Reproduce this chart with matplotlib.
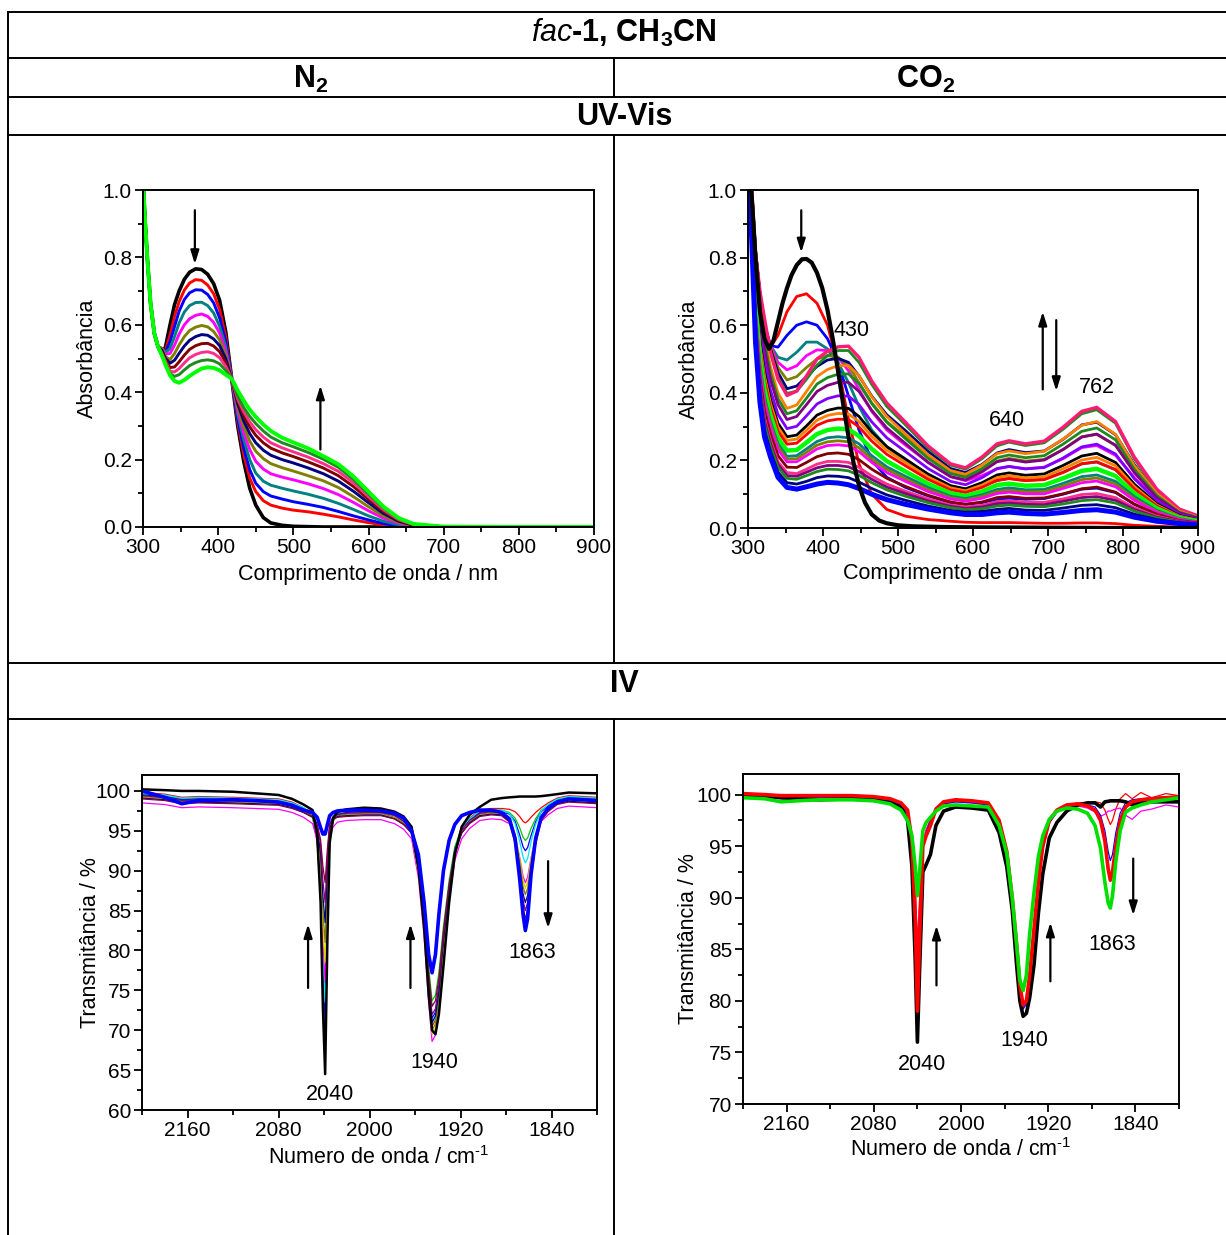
import matplotlib
matplotlib.use("Agg")
import matplotlib.pyplot as plt
from matplotlib.lines import Line2D
from matplotlib.ticker import MultipleLocator

plt.rcParams['font.family'] = ['Liberation Sans', 'DejaVu Sans']
plt.rcParams['mathtext.fontset'] = 'custom'
plt.rcParams['mathtext.rm'] = 'Liberation Sans'
plt.rcParams['mathtext.it'] = 'Liberation Sans:italic'
plt.rcParams['mathtext.bf'] = 'Liberation Sans:bold'
plt.rcParams['mathtext.default'] = 'regular'

# ---------------- UV-Vis, N2 (absorbance) ----------------
wl_n2 = [300, 303, 306, 310, 315, 320, 325, 330, 336, 342, 348, 355, 362, 370, 378,
         386, 394, 402, 410, 418, 426, 434, 442, 450, 460, 470, 485, 500, 520, 540,
         560, 580, 600, 620, 640, 660, 700, 800, 900]
n2_black = [1.03, 0.90, 0.79, 0.665, 0.575, 0.535, 0.512, 0.535, 0.60, 0.66, 0.70, 0.735, 0.756, 0.766, 0.764,
            0.750, 0.722, 0.672, 0.58, 0.44, 0.30, 0.195, 0.115, 0.065, 0.028, 0.012, 0.005, 0.002, 0.001, 0.0,
            0.0, 0.0, 0.0, 0.0, 0.0, 0.0, 0.0, 0.0, 0.0]
n2_red = [1.03, 0.90, 0.79, 0.665, 0.575, 0.535, 0.52, 0.525, 0.57, 0.625, 0.668, 0.703, 0.724, 0.734, 0.732,
          0.718, 0.692, 0.645, 0.565, 0.44, 0.31, 0.215, 0.145, 0.105, 0.078, 0.065, 0.056, 0.05, 0.045, 0.038,
          0.03, 0.021, 0.013, 0.006, 0.002, 0.0, 0.0, 0.0, 0.0]
n2_blue = [1.03, 0.90, 0.79, 0.665, 0.575, 0.535, 0.525, 0.52, 0.55, 0.595, 0.64, 0.675, 0.695, 0.704, 0.703,
           0.69, 0.665, 0.62, 0.55, 0.44, 0.32, 0.235, 0.17, 0.13, 0.105, 0.092, 0.083, 0.075, 0.067, 0.058,
           0.046, 0.033, 0.021, 0.01, 0.004, 0.001, 0.0, 0.0, 0.0]
n2_teal = [1.03, 0.90, 0.79, 0.665, 0.575, 0.535, 0.53, 0.517, 0.53, 0.565, 0.605, 0.638, 0.657, 0.666, 0.667,
           0.657, 0.635, 0.595, 0.535, 0.44, 0.335, 0.26, 0.2, 0.16, 0.136, 0.124, 0.115, 0.107, 0.097, 0.085,
           0.07, 0.052, 0.033, 0.017, 0.007, 0.002, 0.0, 0.0, 0.0]
n2_magenta = [1.03, 0.90, 0.79, 0.665, 0.575, 0.535, 0.53, 0.513, 0.515, 0.54, 0.572, 0.6, 0.618, 0.628, 0.632,
              0.625, 0.607, 0.575, 0.522, 0.44, 0.345, 0.28, 0.23, 0.195, 0.172, 0.158, 0.148, 0.14, 0.128, 0.114,
              0.096, 0.073, 0.048, 0.026, 0.011, 0.003, 0.0, 0.0, 0.0]
n2_olive = [1.03, 0.90, 0.79, 0.665, 0.575, 0.535, 0.53, 0.505, 0.497, 0.515, 0.54, 0.565, 0.583, 0.593, 0.598,
            0.594, 0.58, 0.555, 0.51, 0.44, 0.355, 0.298, 0.255, 0.225, 0.203, 0.188, 0.176, 0.166, 0.152, 0.137,
            0.117, 0.09, 0.06, 0.033, 0.014, 0.004, 0.001, 0.0, 0.0]
n2_navy = [1.03, 0.90, 0.79, 0.665, 0.575, 0.535, 0.525, 0.5, 0.486, 0.495, 0.515, 0.537, 0.554, 0.565, 0.571,
           0.569, 0.558, 0.538, 0.5, 0.44, 0.365, 0.315, 0.277, 0.25, 0.228, 0.213, 0.2, 0.19, 0.175, 0.158,
           0.136, 0.106, 0.072, 0.04, 0.017, 0.005, 0.001, 0.0, 0.0]
n2_maroon = [1.03, 0.90, 0.79, 0.665, 0.575, 0.535, 0.52, 0.495, 0.473, 0.475, 0.49, 0.51, 0.527, 0.538, 0.544,
             0.545, 0.537, 0.52, 0.488, 0.44, 0.373, 0.33, 0.297, 0.272, 0.25, 0.234, 0.22, 0.209, 0.193, 0.175,
             0.152, 0.12, 0.082, 0.046, 0.02, 0.006, 0.001, 0.0, 0.0]
n2_pink = [1.03, 0.90, 0.79, 0.665, 0.575, 0.535, 0.515, 0.49, 0.462, 0.46, 0.47, 0.487, 0.502, 0.512, 0.518,
           0.52, 0.515, 0.502, 0.477, 0.44, 0.38, 0.342, 0.312, 0.289, 0.267, 0.25, 0.235, 0.223, 0.207, 0.188,
           0.165, 0.131, 0.09, 0.051, 0.022, 0.007, 0.001, 0.0, 0.0]
n2_dkgreen = [1.03, 0.90, 0.79, 0.665, 0.575, 0.535, 0.51, 0.485, 0.455, 0.447, 0.452, 0.466, 0.479, 0.488, 0.494,
              0.496, 0.493, 0.484, 0.465, 0.44, 0.388, 0.355, 0.328, 0.307, 0.285, 0.267, 0.25, 0.238, 0.221, 0.201,
              0.177, 0.141, 0.098, 0.056, 0.025, 0.008, 0.001, 0.0, 0.0]
n2_lime = [1.03, 0.90, 0.79, 0.665, 0.575, 0.535, 0.51, 0.48, 0.45, 0.433, 0.428, 0.436, 0.448, 0.46, 0.47,
           0.474, 0.472, 0.465, 0.452, 0.44, 0.405, 0.375, 0.348, 0.327, 0.304, 0.285, 0.265, 0.251, 0.233, 0.21,
           0.186, 0.15, 0.105, 0.06, 0.027, 0.009, 0.001, 0.0, 0.0]

# ---------------- UV-Vis, CO2 ----------------
wl_co2_first = [300, 305, 310, 316, 322, 328, 334, 340, 346, 352, 358, 365, 372, 378, 385, 392, 399, 406,
                413, 420, 427, 434, 441, 448, 456, 465, 475, 485, 500, 520, 560, 600, 700, 800, 900]
co2_black0 = [1.1, 0.98, 0.80, 0.64, 0.56, 0.53, 0.555, 0.61, 0.665, 0.71, 0.748, 0.778, 0.795, 0.796, 0.785, 0.755, 0.71, 0.645,
              0.56, 0.465, 0.365, 0.27, 0.19, 0.125, 0.075, 0.04, 0.022, 0.014, 0.008, 0.005, 0.003, 0.002, 0.001, 0.0, 0.0]

wl_co2 = [300, 305, 310, 316, 322, 330, 340, 352, 365, 378, 392, 406, 420, 434, 448, 465, 485,
          510, 540, 570, 590, 612, 632, 648, 670, 695, 720, 745, 765, 790, 815, 845, 875, 900]
# growth of the 430 / 640 / 762 nm bands
co2_red1 = [1.1, 1.0, 0.82, 0.69, 0.60, 0.535, 0.57, 0.64, 0.685, 0.693, 0.665, 0.60, 0.48, 0.32, 0.19, 0.10, 0.055,
            0.035, 0.025, 0.02, 0.017, 0.016, 0.016, 0.016, 0.015, 0.014, 0.014, 0.015, 0.015, 0.013, 0.008, 0.005, 0.003, 0.002]
co2_blue2 = [1.1, 1.0, 0.82, 0.69, 0.60, 0.54, 0.535, 0.57, 0.60, 0.61, 0.60, 0.56, 0.49, 0.39, 0.29, 0.20, 0.15,
             0.12, 0.095, 0.075, 0.07, 0.075, 0.085, 0.088, 0.085, 0.087, 0.10, 0.115, 0.118, 0.105, 0.07, 0.04, 0.022, 0.015]
co2_teal3 = [1.1, 1.0, 0.82, 0.69, 0.60, 0.54, 0.505, 0.497, 0.52, 0.55, 0.55, 0.53, 0.49, 0.43, 0.36, 0.29, 0.24,
             0.20, 0.16, 0.125, 0.115, 0.125, 0.14, 0.147, 0.14, 0.145, 0.165, 0.19, 0.195, 0.172, 0.12, 0.066, 0.036, 0.024]
co2_magenta4 = [1.1, 1.0, 0.82, 0.69, 0.60, 0.54, 0.49, 0.468, 0.48, 0.51, 0.527, 0.525, 0.505, 0.465, 0.41, 0.345, 0.29,
                0.245, 0.195, 0.152, 0.14, 0.155, 0.175, 0.182, 0.175, 0.18, 0.205, 0.238, 0.244, 0.215, 0.15, 0.082, 0.044, 0.028]
co2_olive5 = [1.1, 1.0, 0.82, 0.69, 0.60, 0.535, 0.475, 0.438, 0.448, 0.475, 0.50, 0.51, 0.505, 0.48, 0.43, 0.37, 0.315,
              0.27, 0.213, 0.165, 0.153, 0.172, 0.198, 0.206, 0.198, 0.203, 0.232, 0.27, 0.277, 0.244, 0.17, 0.093, 0.05, 0.031]
co2_navy6 = [1.1, 1.0, 0.82, 0.69, 0.60, 0.53, 0.46, 0.412, 0.42, 0.448, 0.478, 0.497, 0.502, 0.49, 0.45, 0.39, 0.335,
             0.288, 0.227, 0.176, 0.164, 0.188, 0.222, 0.232, 0.223, 0.228, 0.262, 0.305, 0.313, 0.276, 0.188, 0.102, 0.052, 0.033]
co2_green7 = [1.1, 1.0, 0.82, 0.69, 0.60, 0.52, 0.445, 0.398, 0.405, 0.44, 0.482, 0.51, 0.525, 0.525, 0.49, 0.425, 0.36,
              0.305, 0.237, 0.186, 0.174, 0.205, 0.243, 0.254, 0.244, 0.252, 0.292, 0.338, 0.35, 0.31, 0.205, 0.11, 0.055, 0.035]
co2_pink8 = [1.1, 1.0, 0.815, 0.70, 0.62, 0.52, 0.44, 0.392, 0.405, 0.45, 0.50, 0.523, 0.536, 0.538, 0.505, 0.435, 0.37,
             0.313, 0.243, 0.19, 0.178, 0.21, 0.249, 0.258, 0.249, 0.257, 0.298, 0.345, 0.357, 0.315, 0.21, 0.115, 0.056, 0.036]
# decay of the bands
co2_orange9 = [1.1, 0.979, 0.778, 0.654, 0.571, 0.477, 0.399, 0.354, 0.364, 0.404, 0.448, 0.469, 0.480, 0.481, 0.451, 0.388, 0.330,
               0.279, 0.217, 0.170, 0.159, 0.186, 0.220, 0.228, 0.220, 0.227, 0.263, 0.304, 0.315, 0.277, 0.185, 0.102, 0.050, 0.032]
co2_green10 = [1.1, 0.970, 0.762, 0.634, 0.550, 0.458, 0.382, 0.338, 0.347, 0.384, 0.426, 0.445, 0.455, 0.456, 0.427, 0.368, 0.313,
               0.264, 0.206, 0.161, 0.150, 0.176, 0.208, 0.216, 0.208, 0.214, 0.248, 0.286, 0.296, 0.261, 0.174, 0.096, 0.047, 0.031]
co2_purple11 = [1.1, 0.961, 0.746, 0.614, 0.529, 0.439, 0.365, 0.321, 0.330, 0.365, 0.404, 0.422, 0.431, 0.431, 0.404, 0.348, 0.296,
                0.250, 0.194, 0.152, 0.142, 0.166, 0.196, 0.203, 0.195, 0.201, 0.232, 0.269, 0.278, 0.245, 0.164, 0.090, 0.045, 0.029]
co2_violet12 = [1.1, 0.946, 0.720, 0.581, 0.494, 0.408, 0.336, 0.294, 0.301, 0.332, 0.367, 0.383, 0.391, 0.390, 0.365, 0.314, 0.267,
                0.226, 0.176, 0.138, 0.128, 0.149, 0.176, 0.182, 0.175, 0.179, 0.207, 0.240, 0.248, 0.219, 0.146, 0.081, 0.041, 0.026]
co2_black13 = [1.1, 0.933, 0.696, 0.552, 0.463, 0.381, 0.310, 0.270, 0.275, 0.302, 0.334, 0.348, 0.355, 0.354, 0.330, 0.284, 0.241,
               0.204, 0.159, 0.125, 0.116, 0.134, 0.157, 0.163, 0.156, 0.160, 0.185, 0.213, 0.221, 0.194, 0.130, 0.072, 0.037, 0.024]
co2_orange14 = [1.1, 0.927, 0.685, 0.538, 0.449, 0.368, 0.298, 0.259, 0.263, 0.289, 0.319, 0.333, 0.339, 0.337, 0.315, 0.271, 0.230,
                0.194, 0.151, 0.119, 0.110, 0.127, 0.149, 0.155, 0.148, 0.151, 0.175, 0.201, 0.209, 0.184, 0.123, 0.068, 0.035, 0.023]
co2_red15 = [1.1, 0.921, 0.675, 0.525, 0.435, 0.356, 0.286, 0.248, 0.251, 0.276, 0.304, 0.317, 0.322, 0.321, 0.299, 0.257, 0.218,
             0.184, 0.144, 0.113, 0.105, 0.120, 0.141, 0.146, 0.140, 0.143, 0.164, 0.190, 0.196, 0.173, 0.116, 0.065, 0.033, 0.022]
co2_lime16 = [1.1, 0.910, 0.656, 0.502, 0.410, 0.334, 0.266, 0.229, 0.231, 0.253, 0.278, 0.290, 0.294, 0.292, 0.272, 0.234, 0.198,
              0.167, 0.131, 0.103, 0.095, 0.108, 0.127, 0.131, 0.125, 0.127, 0.147, 0.169, 0.175, 0.154, 0.103, 0.058, 0.030, 0.020]
co2_teal17 = [1.1, 0.901, 0.640, 0.482, 0.389, 0.315, 0.249, 0.212, 0.214, 0.234, 0.256, 0.267, 0.270, 0.267, 0.249, 0.214, 0.181,
              0.153, 0.120, 0.094, 0.087, 0.098, 0.114, 0.119, 0.113, 0.114, 0.132, 0.152, 0.157, 0.138, 0.093, 0.052, 0.028, 0.018]
co2_olive18 = [1.1, 0.897, 0.632, 0.472, 0.379, 0.306, 0.240, 0.204, 0.205, 0.224, 0.245, 0.255, 0.258, 0.255, 0.237, 0.204, 0.173,
               0.145, 0.114, 0.090, 0.083, 0.093, 0.108, 0.112, 0.107, 0.108, 0.124, 0.143, 0.148, 0.130, 0.087, 0.049, 0.026, 0.017]
co2_magenta19 = [1.1, 0.892, 0.624, 0.462, 0.368, 0.297, 0.231, 0.196, 0.196, 0.214, 0.234, 0.244, 0.246, 0.243, 0.226, 0.194, 0.164,
                 0.138, 0.108, 0.086, 0.079, 0.088, 0.102, 0.106, 0.101, 0.101, 0.117, 0.134, 0.139, 0.122, 0.082, 0.047, 0.025, 0.017]
co2_maroon20 = [1.1, 0.883, 0.608, 0.443, 0.347, 0.278, 0.214, 0.180, 0.179, 0.194, 0.211, 0.220, 0.222, 0.218, 0.202, 0.174, 0.147,
                0.123, 0.097, 0.077, 0.070, 0.077, 0.090, 0.093, 0.088, 0.089, 0.101, 0.116, 0.121, 0.106, 0.071, 0.041, 0.022, 0.015]
co2_pink21 = [1.1, 0.874, 0.592, 0.423, 0.326, 0.260, 0.196, 0.164, 0.161, 0.174, 0.189, 0.197, 0.197, 0.194, 0.179, 0.154, 0.130,
              0.109, 0.086, 0.068, 0.062, 0.067, 0.078, 0.081, 0.076, 0.076, 0.086, 0.099, 0.102, 0.090, 0.060, 0.035, 0.020, 0.013]
co2_purple22 = [1.1, 0.870, 0.584, 0.413, 0.316, 0.250, 0.188, 0.155, 0.153, 0.165, 0.178, 0.185, 0.185, 0.181, 0.167, 0.144, 0.121,
                0.102, 0.080, 0.064, 0.058, 0.062, 0.072, 0.074, 0.070, 0.069, 0.079, 0.090, 0.093, 0.082, 0.055, 0.032, 0.019, 0.013]
co2_green23 = [1.1, 0.865, 0.577, 0.403, 0.305, 0.241, 0.179, 0.147, 0.144, 0.155, 0.167, 0.174, 0.173, 0.169, 0.156, 0.134, 0.113,
               0.094, 0.075, 0.060, 0.054, 0.057, 0.065, 0.068, 0.064, 0.063, 0.071, 0.081, 0.084, 0.074, 0.050, 0.030, 0.017, 0.012]
co2_navy24 = [1.1, 0.858, 0.563, 0.387, 0.288, 0.226, 0.165, 0.134, 0.130, 0.138, 0.149, 0.154, 0.153, 0.149, 0.136, 0.117, 0.098,
              0.082, 0.065, 0.052, 0.047, 0.049, 0.055, 0.058, 0.053, 0.052, 0.059, 0.067, 0.069, 0.060, 0.041, 0.025, 0.015, 0.010]
co2_blue_last = [1.1, 0.85, 0.55, 0.37, 0.27, 0.21, 0.15, 0.12, 0.115, 0.122, 0.13, 0.135, 0.133, 0.128, 0.117, 0.10, 0.084,
                 0.07, 0.056, 0.045, 0.04, 0.04, 0.045, 0.047, 0.043, 0.041, 0.046, 0.052, 0.054, 0.047, 0.032, 0.02, 0.013, 0.009]

# ---------------- IR, N2 (transmittance %) ----------------
wn_n2 = [2200, 2180, 2165, 2150, 2120, 2100, 2080, 2068, 2058, 2050, 2046, 2043, 2041, 2039, 2037, 2035, 2032, 2028,
         2020, 2005, 1990, 1978, 1970, 1963, 1957, 1952, 1948, 1945, 1942, 1939, 1935, 1930, 1925, 1919, 1912,
         1903, 1893, 1884, 1877, 1872, 1868, 1865, 1863, 1861, 1858, 1854, 1849, 1843, 1835, 1825, 1812, 1800]
ir_n2_black = [100.2, 100.1, 100.0, 100.0, 99.9, 99.7, 99.5, 99.0, 98.3, 97.6, 94.5, 86.0, 73.0, 64.5, 81.5, 93.5, 96.6, 97.4,
               97.7, 97.9, 97.8, 97.4, 96.8, 95.5, 90.5, 83.0, 74.5, 70.0, 69.5, 72.0, 78.0, 86.0, 92.0, 95.5, 97.0,
               98.0, 98.9, 99.1, 99.2, 99.25, 99.3, 99.3, 99.3, 99.3, 99.3, 99.3, 99.35, 99.45, 99.6, 99.8, 99.75, 99.7]
ir_n2_red = [99.8, 99.6, 99.2, 99.3, 99.2, 99.1, 99.0, 98.6, 97.9, 96.9, 93.6, 86.5, 73.9, 66.0, 82.4, 93.8, 96.3, 97.3,
             97.6, 97.7, 97.7, 97.2, 96.5, 95.3, 90.5, 83.3, 75.3, 70.5, 71.3, 74.5, 81.2, 87.9, 92.7, 95.3, 96.6,
             97.6, 97.8, 97.8, 97.7, 97.4, 96.8, 96.2, 96.0, 96.2, 96.7, 97.3, 97.9, 98.5, 99.1, 99.4, 99.3, 99.2]
ir_n2_green = [99.6, 99.4, 99.0, 99.1, 99.0, 98.9, 98.8, 98.4, 97.8, 96.7, 93.7, 87.3, 75.7, 68.5, 83.5, 93.9, 96.2, 97.1,
               97.4, 97.5, 97.5, 97.1, 96.4, 95.4, 91.2, 84.9, 77.9, 73.7, 74.4, 77.2, 83.0, 88.8, 93.0, 95.4, 96.5,
               97.4, 97.6, 97.6, 97.3, 96.6, 95.4, 94.2, 93.8, 94.1, 95.3, 96.5, 97.6, 98.2, 98.9, 99.2, 99.1, 99.0]
ir_n2_blue = [99.5, 99.3, 98.9, 99.0, 98.9, 98.8, 98.7, 98.3, 97.7, 96.7, 94.0, 88.1, 77.6, 71.0, 84.7, 94.1, 96.3, 97.0,
              97.3, 97.4, 97.4, 97.0, 96.2, 95.1, 90.6, 83.7, 76.1, 71.5, 72.3, 75.3, 81.7, 88.0, 92.6, 95.1, 96.4,
              97.3, 97.5, 97.4, 97.1, 96.2, 94.5, 93.0, 92.5, 92.9, 94.4, 96.1, 97.4, 98.1, 98.8, 99.1, 99.0, 98.9]
ir_n2_cyan = [99.7, 99.5, 99.1, 99.2, 99.1, 99.0, 98.9, 98.5, 97.9, 97.0, 94.5, 89.1, 79.5, 73.5, 86.0, 94.6, 96.5, 97.3,
              97.5, 97.6, 97.6, 97.1, 96.4, 95.3, 90.5, 83.4, 75.5, 70.8, 71.6, 74.7, 81.3, 87.9, 92.6, 95.3, 96.5,
              97.5, 97.7, 97.6, 97.2, 95.9, 93.7, 91.7, 91.0, 91.5, 93.6, 95.8, 97.5, 98.3, 99.0, 99.3, 99.2, 99.1]
ir_n2_magenta = [98.5, 98.3, 97.9, 98.0, 97.9, 97.8, 97.7, 97.3, 96.7, 95.9, 93.8, 89.2, 81.1, 76.0, 86.6, 93.9, 95.5, 96.1,
                 96.3, 96.4, 96.4, 95.9, 95.2, 94.0, 89.1, 81.7, 73.5, 68.6, 69.4, 72.7, 79.5, 86.3, 91.3, 94.0, 95.3,
                 96.3, 96.5, 96.4, 95.9, 94.3, 91.7, 89.3, 88.5, 89.2, 91.6, 94.2, 96.2, 97.0, 97.8, 98.1, 98.0, 97.9]
ir_n2_yellow = [99.2, 99.0, 98.6, 98.7, 98.6, 98.5, 98.4, 98.0, 97.4, 96.6, 94.7, 90.5, 83.1, 78.5, 88.1, 94.8, 96.3, 96.8,
                97.0, 97.1, 97.1, 96.6, 95.9, 94.7, 89.8, 82.5, 74.4, 69.5, 70.3, 73.6, 80.3, 87.1, 92.0, 94.7, 96.0,
                97.0, 97.2, 97.1, 96.5, 94.6, 91.6, 88.8, 87.8, 88.6, 91.4, 94.5, 96.7, 97.7, 98.5, 98.8, 98.7, 98.6]
ir_n2_olive = [99.3, 99.1, 98.7, 98.8, 98.7, 98.6, 98.5, 98.1, 97.5, 96.8, 95.1, 91.5, 85.0, 81.0, 89.4, 95.2, 96.5, 96.9,
               97.1, 97.2, 97.2, 96.7, 96.0, 94.8, 90.0, 82.8, 74.8, 70.0, 70.8, 74.0, 80.7, 87.4, 92.2, 94.8, 96.1,
               97.1, 97.3, 97.2, 96.6, 94.5, 91.2, 88.0, 87.0, 87.8, 91.0, 94.3, 96.8, 97.8, 98.6, 98.9, 98.8, 98.7]
ir_n2_navy = [99.1, 98.9, 98.5, 98.6, 98.5, 98.4, 98.3, 97.9, 97.3, 96.7, 95.3, 92.2, 86.9, 83.5, 90.5, 95.3, 96.4, 96.8,
              96.9, 97.0, 97.0, 96.5, 95.8, 94.7, 90.1, 83.2, 75.6, 71.0, 71.8, 74.8, 81.2, 87.6, 92.2, 94.7, 96.0,
              96.9, 97.1, 97.0, 96.3, 94.1, 90.5, 87.1, 86.0, 86.9, 90.3, 93.8, 96.5, 97.6, 98.4, 98.7, 98.6, 98.5]
ir_n2_purple = [99.4, 99.2, 98.8, 98.9, 98.8, 98.7, 98.6, 98.2, 97.6, 97.1, 95.8, 93.3, 88.8, 86.0, 91.8, 95.9, 96.8, 97.1,
                97.2, 97.3, 97.3, 96.9, 96.2, 95.1, 90.6, 83.9, 76.5, 72.0, 72.7, 75.7, 81.9, 88.1, 92.6, 95.1, 96.3,
                97.2, 97.4, 97.3, 96.5, 94.0, 90.0, 86.3, 85.0, 86.0, 89.8, 93.8, 96.7, 97.9, 98.7, 99.0, 98.9, 98.8]
ir_n2_wine = [99.0, 98.8, 98.4, 98.5, 98.4, 98.3, 98.2, 97.8, 97.3, 96.8, 95.8, 93.9, 90.6, 88.5, 92.8, 95.8, 96.5, 96.7,
              96.8, 96.9, 96.9, 96.5, 95.8, 94.8, 90.6, 84.2, 77.2, 73.0, 73.7, 76.5, 82.4, 88.2, 92.4, 94.8, 95.9,
              96.8, 97.0, 96.9, 96.1, 93.4, 89.2, 85.3, 84.0, 85.1, 89.0, 93.2, 96.3, 97.4, 98.3, 98.6, 98.5, 98.4]
ir_n2_blue_last = [100.0, 99.2, 98.4, 98.8, 98.9, 98.8, 98.6, 98.2, 97.6, 97.3, 96.7, 95.4, 94.6, 94.6, 95.8, 96.9, 97.3, 97.5,
                   97.6, 97.6, 97.5, 97.2, 96.6, 95.0, 92.0, 86.0, 79.5, 77.2, 79.5, 84.5, 90.0, 93.8, 95.8, 96.9, 97.3,
                   97.6, 97.6, 97.3, 96.5, 94.0, 89.0, 84.5, 82.5, 84.0, 89.5, 94.0, 96.7, 97.8, 98.6, 99.0, 98.9, 98.8]

# ---------------- IR, CO2 ----------------
wn_co2 = [2200, 2180, 2165, 2150, 2130, 2100, 2080, 2065, 2055, 2049, 2045, 2042, 2040, 2038, 2035, 2032, 2028, 2023,
          2016, 2005, 1990, 1975, 1965, 1958, 1953, 1949, 1946, 1943, 1940, 1937, 1933, 1929, 1925, 1919, 1912,
          1903, 1893, 1884, 1877, 1872, 1868, 1865, 1863, 1861, 1858, 1854, 1849, 1843, 1835, 1825, 1812, 1800]
ir_co2_black = [99.9, 99.85, 99.7, 99.6, 99.5, 99.6, 99.5, 99.2, 98.8, 97.5, 93.0, 84.0, 76.0, 83.0, 92.5, 93.2, 94.2, 97.0,
                98.4, 98.8, 98.7, 98.5, 96.3, 93.0, 88.8, 83.5, 80.0, 78.5, 78.8, 80.3, 83.5, 88.5, 92.3, 95.8, 97.3,
                98.4, 99.0, 99.2, 99.2, 98.8, 99.3, 99.35, 99.4, 99.4, 99.4, 99.4, 99.3, 99.0, 99.2, 99.3, 99.3, 99.3]
ir_co2_thin_red = [100.0, 99.9, 99.8, 99.8, 99.8, 99.8, 99.7, 99.5, 99.1, 98.4, 96.0, 91.5, 85.5, 90.0, 95.5, 96.6, 97.6, 98.7,
                   99.2, 99.4, 99.3, 99.1, 97.4, 94.4, 90.0, 85.3, 81.2, 79.4, 80.0, 82.5, 87.0, 91.5, 95.0, 97.5, 98.5,
                   99.0, 99.2, 99.2, 99.3, 99.2, 98.5, 97.6, 97.1, 97.5, 98.6, 99.6, 100.1, 99.6, 100.2, 99.7, 100.1, 99.9]
ir_co2_thin_magenta = [99.8, 99.7, 99.6, 99.6, 99.6, 99.6, 99.5, 99.3, 98.9, 98.1, 95.5, 90.5, 84.0, 89.0, 95.3, 96.5, 97.5, 98.6,
                       99.1, 99.3, 99.2, 99.0, 97.4, 94.4, 90.0, 85.4, 81.4, 79.6, 80.2, 82.6, 87.0, 91.3, 94.6, 97.2, 98.3,
                       98.8, 98.9, 98.7, 98.3, 97.9, 98.1, 98.4, 98.4, 98.5, 98.6, 98.7, 98.0, 97.6, 98.4, 98.6, 99.0, 98.8]
ir_co2_thin_blue = [99.9, 99.8, 99.7, 99.7, 99.7, 99.7, 99.6, 99.4, 99.0, 98.2, 95.0, 89.0, 82.5, 88.0, 95.0, 96.3, 97.5, 98.6,
                    99.1, 99.3, 99.2, 99.0, 97.3, 94.3, 89.8, 85.0, 81.0, 79.2, 79.7, 82.0, 86.5, 91.0, 94.8, 97.3, 98.3,
                    98.9, 99.1, 99.0, 98.8, 98.0, 96.5, 94.5, 93.6, 94.2, 96.3, 98.2, 99.2, 99.5, 99.6, 99.7, 99.8, 99.8]
ir_co2_red = [100.1, 100.0, 99.9, 99.9, 99.9, 99.9, 99.8, 99.6, 99.2, 98.5, 95.5, 88.0, 79.0, 86.0, 95.0, 96.0, 97.0, 98.6,
              99.3, 99.5, 99.4, 99.2, 97.5, 94.5, 90.0, 85.5, 81.5, 79.6, 80.0, 82.5, 87.0, 91.5, 95.0, 97.5, 98.5,
              99.0, 99.1, 98.9, 98.5, 97.5, 95.5, 92.8, 91.7, 92.5, 95.0, 97.5, 98.8, 99.3, 99.5, 99.6, 99.7, 99.8]
ir_co2_green = [99.7, 99.6, 99.3, 99.4, 99.5, 99.5, 99.4, 99.1, 98.5, 97.5, 96.0, 93.0, 90.2, 92.5, 96.5, 97.3, 97.8, 98.4,
                98.9, 99.0, 98.9, 98.8, 97.0, 94.3, 90.0, 85.5, 82.0, 81.0, 82.5, 86.5, 90.5, 94.0, 96.0, 97.6, 98.4,
                98.7, 98.6, 98.2, 97.0, 94.8, 91.5, 89.5, 89.0, 90.2, 93.5, 96.5, 98.3, 98.7, 99.0, 99.3, 99.5, 99.7]

# ---------------- layout ----------------
W, H = 1226, 1235
fig = plt.figure(figsize=(W / 100, H / 100), dpi=100)


def fx(x):
    return x / W


def fy(y):
    return 1 - y / H


def line(x0, y0, x1, y1):
    fig.add_artist(Line2D([fx(x0), fx(x1)], [fy(y0), fy(y1)], transform=fig.transFigure,
                          color='black', lw=1.4, solid_capstyle='projecting'))


# table grid
for y in [12, 58, 97, 135, 663, 719]:
    line(8, y, 1226, y)
line(8, 12, 8, 1235)
line(614, 58, 614, 97)
line(614, 135, 614, 663)
line(614, 719, 614, 1235)

hdr = dict(ha='center', va='center', fontsize=22, fontweight='bold')
fig.text(fx(624), fy(33), r'$\mathit{fac}$-1, CH$_3$CN', **hdr)
fig.text(fx(311), fy(79), r'N$_2$', **hdr)
fig.text(fx(926), fy(79), r'CO$_2$', **hdr)
fig.text(fx(624), fy(117), 'UV-Vis', **hdr)
fig.text(fx(624), fy(684), 'IV', **hdr)

LAB = 15.5
IR_XLABEL = r'Numero de onda / cm$^{\text{-}1}$'


def add_axes(left, right, top, bottom):
    ax = fig.add_axes([fx(left), fy(bottom), (right - left) / W, (bottom - top) / H])
    for sp in ax.spines.values():
        sp.set_linewidth(1.4)
    ax.tick_params(which='both', direction='out', width=1.3, top=False, right=False,
                   labelsize=15, pad=2)
    ax.tick_params(which='major', length=6)
    ax.tick_params(which='minor', length=3.5)
    return ax


def arrow(ax, x, y0, y1):
    ax.annotate('', xy=(x, y1), xytext=(x, y0),
                arrowprops=dict(arrowstyle='-|>,head_length=0.8,head_width=0.25', color='black',
                                lw=1.6, mutation_scale=10, shrinkA=0, shrinkB=0))


def set_labels(ax, xlabel, ylabel, xl_y, yl_x, xl_x=0.5):
    ax.set_xlabel(xlabel, fontsize=LAB, va='center')
    ax.set_ylabel(ylabel, fontsize=LAB, va='center')
    ax.xaxis.set_label_coords(xl_x, xl_y)
    ax.yaxis.set_label_coords(yl_x, 0.5)


def uv_axes(ax):
    ax.set_xlim(300, 900)
    ax.set_ylim(0, 1)
    ax.xaxis.set_major_locator(MultipleLocator(100))
    ax.xaxis.set_minor_locator(MultipleLocator(50))
    ax.yaxis.set_major_locator(MultipleLocator(0.2))
    ax.yaxis.set_minor_locator(MultipleLocator(0.1))


# ---- panel 1: UV-Vis N2
ax1 = add_axes(143, 594, 190, 527)
n2_curves = [(n2_black, 'black', 2.6), (n2_red, 'red', 2.1), (n2_blue, 'blue', 2.1),
             (n2_teal, '#008080', 2.1), (n2_magenta, '#ff00ff', 2.1), (n2_olive, '#808000', 2.1),
             (n2_navy, '#000080', 2.1), (n2_maroon, '#800000', 2.1), (n2_pink, '#ff2e8c', 2.1),
             (n2_dkgreen, '#1e8a1e', 2.1), (n2_lime, '#00ff00', 2.8)]
for vals, col, lw in n2_curves:
    ax1.plot(wl_n2, vals, color=col, lw=lw)
uv_axes(ax1)
set_labels(ax1, 'Comprimento de onda / nm', 'Absorbância', -0.142, -0.124)
arrow(ax1, 369, 0.94, 0.78)
arrow(ax1, 536, 0.23, 0.42)

# ---- panel 2: UV-Vis CO2
ax2 = add_axes(748, 1198, 190, 528)
co2_curves = [(co2_red1, 'red', 2.0), (co2_blue2, 'blue', 2.0), (co2_teal3, '#008080', 2.0),
              (co2_magenta4, '#ff00ff', 2.0), (co2_olive5, '#808000', 2.0), (co2_navy6, '#000080', 2.0),
              (co2_green7, '#1e8a1e', 2.0), (co2_pink8, '#ff1a75', 2.4),
              (co2_orange9, '#ff8000', 2.0), (co2_green10, '#1e8a1e', 2.0), (co2_purple11, '#800080', 2.0),
              (co2_violet12, '#8000ff', 2.0), (co2_black13, 'black', 2.0), (co2_orange14, '#ff8000', 2.0),
              (co2_red15, 'red', 2.0), (co2_lime16, '#00ff00', 3.2), (co2_teal17, '#008080', 2.0),
              (co2_olive18, '#808000', 2.0), (co2_magenta19, '#ff00ff', 2.0), (co2_maroon20, '#800000', 2.0),
              (co2_pink21, '#ff2e8c', 2.0), (co2_purple22, '#800080', 2.0), (co2_green23, '#1e8a1e', 2.0),
              (co2_navy24, '#000080', 2.0), (co2_blue_last, 'blue', 3.6)]
for vals, col, lw in co2_curves:
    ax2.plot(wl_co2, vals, color=col, lw=lw)
ax2.plot(wl_co2_first, co2_black0, color='black', lw=3.0, zorder=3)
uv_axes(ax2)
set_labels(ax2, 'Comprimento de onda / nm', 'Absorbância', -0.136, -0.129)
arrow(ax2, 371, 0.94, 0.815)
arrow(ax2, 693, 0.41, 0.64)
arrow(ax2, 711, 0.615, 0.405)
ax2.text(438, 0.585, '430', fontsize=LAB, ha='center', va='center')
ax2.text(645, 0.317, '640', fontsize=LAB, ha='center', va='center')
ax2.text(765, 0.417, '762', fontsize=LAB, ha='center', va='center')


def ir_axes(ax, ymin):
    ax.set_xlim(2200, 1800)
    ax.set_ylim(ymin, 102)
    ax.xaxis.set_major_locator(MultipleLocator(80))
    ax.xaxis.set_minor_locator(MultipleLocator(40))
    ax.yaxis.set_major_locator(MultipleLocator(5))
    ax.yaxis.set_minor_locator(MultipleLocator(2.5))


# ---- panel 3: IR N2
ax3 = add_axes(142, 597, 775, 1110)
ir_n2_curves = [(ir_n2_red, 'red'), (ir_n2_green, '#00c800'), (ir_n2_blue, 'blue'), (ir_n2_cyan, '#00e5ff'),
                (ir_n2_magenta, '#ff00ff'), (ir_n2_yellow, '#d8d800'), (ir_n2_olive, '#808000'),
                (ir_n2_navy, '#000080'), (ir_n2_purple, '#800080'), (ir_n2_wine, '#800040')]
for vals, col in ir_n2_curves:
    ax3.plot(wn_n2, vals, color=col, lw=0.9)
ax3.plot(wn_n2, ir_n2_black, color='black', lw=1.8)
ax3.plot(wn_n2, ir_n2_blue_last, color='blue', lw=2.6)
ir_axes(ax3, 60)
set_labels(ax3, IR_XLABEL, 'Transmitância / %', -0.143, -0.114, 0.52)
arrow(ax3, 2054, 75.3, 83.3)
arrow(ax3, 1964, 75.3, 83.3)
arrow(ax3, 1843, 91.2, 82.8)
ax3.text(2035, 61.9, '2040', fontsize=LAB, ha='center', va='center')
ax3.text(1943, 66.0, '1940', fontsize=LAB, ha='center', va='center')
ax3.text(1857, 79.7, '1863', fontsize=LAB, ha='center', va='center')

# ---- panel 4: IR CO2
ax4 = add_axes(743, 1179, 774, 1104)
for vals, col in [(ir_co2_thin_red, 'red'), (ir_co2_thin_magenta, '#ff00ff'), (ir_co2_thin_blue, 'blue')]:
    ax4.plot(wn_co2, vals, color=col, lw=0.9)
ax4.plot(wn_co2, ir_co2_black, color='black', lw=2.6)
ax4.plot(wn_co2, ir_co2_red, color='red', lw=2.6)
ax4.plot(wn_co2, ir_co2_green, color='#00e000', lw=2.6)
ir_axes(ax4, 70)
set_labels(ax4, IR_XLABEL, 'Transmitância / %', -0.139, -0.126)
arrow(ax4, 2022.5, 81.5, 87.3)
arrow(ax4, 1918, 81.9, 87.6)
arrow(ax4, 1842, 93.8, 88.3)
ax4.text(2036, 73.8, '2040', fontsize=LAB, ha='center', va='center')
ax4.text(1942, 76.2, '1940', fontsize=LAB, ha='center', va='center')
ax4.text(1861, 85.5, '1863', fontsize=LAB, ha='center', va='center')

fig.savefig('out.png', dpi=100)
